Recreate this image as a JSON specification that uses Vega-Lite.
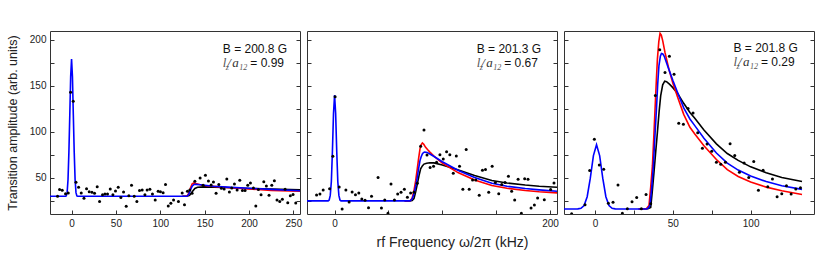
{
 "$schema": "https://vega.github.io/schema/vega-lite/v6.json",
 "background": "white",
 "padding": {"left": 5, "top": 30, "right": 17, "bottom": 8},
 "bounds": "flush",
 "spacing": 7,
 "config": {
  "font": "Liberation Sans",
  "view": {"stroke": "#333333", "strokeWidth": 1},
  "axis": {"domain": false, "grid": false, "tickSize": -4, "tickColor": "#333333", "labelFontSize": 10, "labelColor": "#222222", "labelPadding": 8, "labelFlush": false, "titleFontWeight": "normal", "titleColor": "#222222", "labelFont": "Liberation Sans", "titleFont": "Liberation Sans"}
 },
 "datasets": {
  "points": [
   {"panel":1,"f":-15.8,"a":30},{"panel":1,"f":-13.5,"a":37.3},{"panel":1,"f":-10.5,"a":36.5},{"panel":1,"f":-6.8,"a":32.9},{"panel":1,"f":-3.7,"a":33.7},{"panel":1,"f":-1.1,"a":143},{"panel":1,"f":1.9,"a":133.3},{"panel":1,"f":5,"a":45.2},{"panel":1,"f":7.9,"a":39.8},{"panel":1,"f":10.9,"a":33.7},{"panel":1,"f":14,"a":27.8},{"panel":1,"f":16.9,"a":38.3},{"panel":1,"f":19.9,"a":35},{"panel":1,"f":23,"a":34.3},{"panel":1,"f":25.9,"a":33.2},{"panel":1,"f":28.9,"a":40.5},{"panel":1,"f":31.6,"a":24.5},{"panel":1,"f":34.9,"a":31.8},{"panel":1,"f":37.6,"a":32.6},{"panel":1,"f":40.5,"a":32.6},{"panel":1,"f":43.6,"a":38},{"panel":1,"f":46.6,"a":31.8},{"panel":1,"f":49.5,"a":35.8},{"panel":1,"f":52.6,"a":39.8},{"panel":1,"f":55.6,"a":28.6},{"panel":1,"f":58.6,"a":34.8},{"panel":1,"f":61.6,"a":19.1},{"panel":1,"f":64.6,"a":30.7},{"panel":1,"f":67.6,"a":41.9},{"panel":1,"f":70.6,"a":30},{"panel":1,"f":73.6,"a":24.5},{"panel":1,"f":76.6,"a":36.2},{"panel":1,"f":79.6,"a":36.9},{"panel":1,"f":82.7,"a":31.8},{"panel":1,"f":85.2,"a":36.9},{"panel":1,"f":88.3,"a":37.6},{"panel":1,"f":91.2,"a":32.6},{"panel":1,"f":94.3,"a":26},{"panel":1,"f":97.6,"a":35.4},{"panel":1,"f":100.2,"a":35},{"panel":1,"f":103.2,"a":34},{"panel":1,"f":105.9,"a":42.7},{"panel":1,"f":109,"a":19.5},{"panel":1,"f":111.9,"a":22.4},{"panel":1,"f":115,"a":26},{"panel":1,"f":120.5,"a":24.5},{"panel":1,"f":124.7,"a":33.7},{"panel":1,"f":127.3,"a":20.9},{"panel":1,"f":130.6,"a":35.4},{"panel":1,"f":133.3,"a":36.9},{"panel":1,"f":135.9,"a":33.2},{"panel":1,"f":139,"a":46.3},{"panel":1,"f":144.9,"a":50},{"panel":1,"f":148.3,"a":41.9},{"panel":1,"f":150.9,"a":52.8},{"panel":1,"f":154.3,"a":46.7},{"panel":1,"f":157.3,"a":42.3},{"panel":1,"f":159.9,"a":45.6},{"panel":1,"f":162.9,"a":33.2},{"panel":1,"f":166,"a":42.7},{"panel":1,"f":168.9,"a":38.7},{"panel":1,"f":172,"a":38},{"panel":1,"f":175,"a":48.9},{"panel":1,"f":177.9,"a":34.8},{"panel":1,"f":180.6,"a":39.1},{"panel":1,"f":183.6,"a":43.5},{"panel":1,"f":186.6,"a":36.9},{"panel":1,"f":189.6,"a":47.4},{"panel":1,"f":192.6,"a":36.2},{"panel":1,"f":195.6,"a":36.2},{"panel":1,"f":198.6,"a":41.9},{"panel":1,"f":201.6,"a":44.5},{"panel":1,"f":205,"a":39.1},{"panel":1,"f":207.7,"a":19.5},{"panel":1,"f":210.6,"a":37.3},{"panel":1,"f":213.6,"a":31.8},{"panel":1,"f":216.7,"a":45.9},{"panel":1,"f":219.6,"a":41.3},{"panel":1,"f":222.6,"a":31.1},{"panel":1,"f":225.7,"a":41.9},{"panel":1,"f":228.6,"a":47},{"panel":1,"f":231.6,"a":26},{"panel":1,"f":234.7,"a":24.5},{"panel":1,"f":237.6,"a":26.7},{"panel":1,"f":240.7,"a":37.6},{"panel":1,"f":243.7,"a":23.1},{"panel":1,"f":246.6,"a":30.7},{"panel":1,"f":249.7,"a":32.1},{"panel":1,"f":252.7,"a":22.8},
   {"panel":2,"f":-16.7,"a":31.5},{"panel":2,"f":-13.6,"a":32.6},{"panel":2,"f":-10.6,"a":36.9},{"panel":2,"f":-4.6,"a":38.3},{"panel":2,"f":-1.6,"a":73.5},{"panel":2,"f":0.5,"a":138},{"panel":2,"f":4.3,"a":40.2},{"panel":2,"f":7,"a":16.3},{"panel":2,"f":10.5,"a":36.9},{"panel":2,"f":13.5,"a":23.9},{"panel":2,"f":16.3,"a":34.8},{"panel":2,"f":19.4,"a":31.8},{"panel":2,"f":22.5,"a":33.7},{"panel":2,"f":25.3,"a":27.1},{"panel":2,"f":28.3,"a":25.6},{"panel":2,"f":31.5,"a":17.7},{"panel":2,"f":34.3,"a":30},{"panel":2,"f":40.4,"a":50.3},{"panel":2,"f":43.5,"a":17.4},{"panel":2,"f":46.6,"a":26},{"panel":2,"f":49.6,"a":11.5},{"panel":2,"f":52.4,"a":43.4},{"panel":2,"f":55.6,"a":26},{"panel":2,"f":58.6,"a":32.6},{"panel":2,"f":61.7,"a":34.3},{"panel":2,"f":64.8,"a":37.6},{"panel":2,"f":67.6,"a":28.9},{"panel":2,"f":70.6,"a":33.7},{"panel":2,"f":73.7,"a":34.3},{"panel":2,"f":76.8,"a":44.1},{"panel":2,"f":79.9,"a":84.3},{"panel":2,"f":83,"a":102.1},{"panel":2,"f":85.8,"a":74.8},{"panel":2,"f":88.7,"a":61.3},{"panel":2,"f":91.9,"a":62.6},{"panel":2,"f":94.7,"a":66.9},{"panel":2,"f":97.8,"a":75},{"panel":2,"f":100.9,"a":70.6},{"panel":2,"f":104,"a":78.5},{"panel":2,"f":107,"a":75},{"panel":2,"f":110.2,"a":55},{"panel":2,"f":113,"a":73.9},{"panel":2,"f":116,"a":62.6},{"panel":2,"f":119.1,"a":37.6},{"panel":2,"f":122.2,"a":80.9},{"panel":2,"f":125,"a":37.6},{"panel":2,"f":128.1,"a":47.8},{"panel":2,"f":131.1,"a":47.8},{"panel":2,"f":134.3,"a":31.1},{"panel":2,"f":137.3,"a":58.3},{"panel":2,"f":140.1,"a":59},{"panel":2,"f":143.1,"a":34.3},{"panel":2,"f":146.3,"a":62.6},{"panel":2,"f":149.3,"a":44.9},{"panel":2,"f":152.4,"a":32.9},{"panel":2,"f":155.2,"a":42.7},{"panel":2,"f":158.3,"a":44.9},{"panel":2,"f":161.4,"a":51.7},{"panel":2,"f":164.4,"a":35.4},{"panel":2,"f":167.2,"a":26},{"panel":2,"f":170.4,"a":48.4},{"panel":2,"f":173.4,"a":11.5},{"panel":2,"f":176.5,"a":49.2},{"panel":2,"f":179.6,"a":48.4},{"panel":2,"f":182.4,"a":17.4},{"panel":2,"f":185.5,"a":20.6},{"panel":2,"f":188.5,"a":28.2},{"panel":2,"f":194.7,"a":26.4},{"panel":2,"f":200.6,"a":37.3},{"panel":2,"f":203.7,"a":44.5},
   {"panel":3,"f":-15,"a":11},{"panel":3,"f":-6.4,"a":20.9},{"panel":3,"f":-3.4,"a":57.9},{"panel":3,"f":-0.4,"a":91.9},{"panel":3,"f":2.8,"a":64.1},{"panel":3,"f":5.6,"a":59.3},{"panel":3,"f":8.6,"a":22.4},{"panel":3,"f":11.6,"a":23.5},{"panel":3,"f":14.8,"a":42.4},{"panel":3,"f":17.6,"a":11.5},{"panel":3,"f":20.8,"a":16.6},{"panel":3,"f":23.8,"a":24.2},{"panel":3,"f":26.8,"a":28.6},{"panel":3,"f":29.8,"a":16.6},{"panel":3,"f":32.8,"a":32.1},{"panel":3,"f":35.8,"a":22},{"panel":3,"f":38.8,"a":139.4},{"panel":3,"f":41.6,"a":189.1},{"panel":3,"f":45,"a":164.4},{"panel":3,"f":47.8,"a":182.2},{"panel":3,"f":50.8,"a":162.6},{"panel":3,"f":53.8,"a":109.3},{"panel":3,"f":56.8,"a":108.2},{"panel":3,"f":59.8,"a":125.3},{"panel":3,"f":63,"a":120.6},{"panel":3,"f":66,"a":98.9},{"panel":3,"f":69,"a":82.2},{"panel":3,"f":72,"a":86.9},{"panel":3,"f":75,"a":78.9},{"panel":3,"f":78,"a":66.9},{"panel":3,"f":80.8,"a":64.8},{"panel":3,"f":83.8,"a":66.9},{"panel":3,"f":86.8,"a":87.2},{"panel":3,"f":89.8,"a":74.2},{"panel":3,"f":92.8,"a":56.1},{"panel":3,"f":95.8,"a":66.3},{"panel":3,"f":98.8,"a":50.3},{"panel":3,"f":102,"a":67.7},{"panel":3,"f":105,"a":36.5},{"panel":3,"f":108,"a":58.2},{"panel":3,"f":111,"a":40.5},{"panel":3,"f":114,"a":48.9},{"panel":3,"f":117,"a":29.6},{"panel":3,"f":120,"a":32.9},{"panel":3,"f":123,"a":41.6},{"panel":3,"f":126,"a":32.6},{"panel":3,"f":129,"a":38},{"panel":3,"f":132,"a":39.3}
  ],
  "curves": [
   {"panel":1,"fit":"black","f":125,"a":30},{"panel":1,"fit":"black","f":130,"a":30},{"panel":1,"fit":"black","f":133,"a":31},{"panel":1,"fit":"black","f":136,"a":35},{"panel":1,"fit":"black","f":139,"a":38.5},{"panel":1,"fit":"black","f":142,"a":39.8},{"panel":1,"fit":"black","f":150,"a":40.2},{"panel":1,"fit":"black","f":160,"a":40},{"panel":1,"fit":"black","f":175,"a":39.5},{"panel":1,"fit":"black","f":200,"a":38.5},{"panel":1,"fit":"black","f":225,"a":37.8},{"panel":1,"fit":"black","f":257.5,"a":37},
   {"panel":1,"fit":"red","f":125,"a":30},{"panel":1,"fit":"red","f":130,"a":30},{"panel":1,"fit":"red","f":132,"a":33},{"panel":1,"fit":"red","f":134,"a":39},{"panel":1,"fit":"red","f":136,"a":43.5},{"panel":1,"fit":"red","f":138,"a":44.5},{"panel":1,"fit":"red","f":140,"a":44},{"panel":1,"fit":"red","f":145,"a":42.5},{"panel":1,"fit":"red","f":150,"a":41.8},{"panel":1,"fit":"red","f":160,"a":40.8},{"panel":1,"fit":"red","f":175,"a":39.5},{"panel":1,"fit":"red","f":200,"a":38},{"panel":1,"fit":"red","f":225,"a":36.5},{"panel":1,"fit":"red","f":257.5,"a":35.5},
   {"panel":1,"fit":"blue","f":-24.3,"a":30},{"panel":1,"fit":"blue","f":-7,"a":30},{"panel":1,"fit":"blue","f":-6,"a":30.5},{"panel":1,"fit":"blue","f":-5,"a":34},{"panel":1,"fit":"blue","f":-4,"a":48},{"panel":1,"fit":"blue","f":-3,"a":78},{"panel":1,"fit":"blue","f":-2,"a":118},{"panel":1,"fit":"blue","f":-1,"a":160},{"panel":1,"fit":"blue","f":0,"a":179},{"panel":1,"fit":"blue","f":1,"a":160},{"panel":1,"fit":"blue","f":2,"a":118},{"panel":1,"fit":"blue","f":3,"a":78},{"panel":1,"fit":"blue","f":4,"a":48},{"panel":1,"fit":"blue","f":5,"a":34},{"panel":1,"fit":"blue","f":6,"a":30.5},{"panel":1,"fit":"blue","f":7,"a":30},{"panel":1,"fit":"blue","f":130,"a":30},{"panel":1,"fit":"blue","f":132,"a":32},{"panel":1,"fit":"blue","f":134,"a":37},{"panel":1,"fit":"blue","f":136,"a":41},{"panel":1,"fit":"blue","f":138,"a":42.8},{"panel":1,"fit":"blue","f":140,"a":43},{"panel":1,"fit":"blue","f":145,"a":42.5},{"panel":1,"fit":"blue","f":150,"a":42},{"panel":1,"fit":"blue","f":160,"a":41},{"panel":1,"fit":"blue","f":175,"a":40},{"panel":1,"fit":"blue","f":200,"a":38.7},{"panel":1,"fit":"blue","f":225,"a":37.5},{"panel":1,"fit":"blue","f":257.5,"a":36},
   {"panel":2,"fit":"black","f":65,"a":25},{"panel":2,"fit":"black","f":70,"a":25},{"panel":2,"fit":"black","f":72,"a":25.5},{"panel":2,"fit":"black","f":73.7,"a":27.5},{"panel":2,"fit":"black","f":75.3,"a":35},{"panel":2,"fit":"black","f":76.8,"a":43.4},{"panel":2,"fit":"black","f":78.3,"a":52},{"panel":2,"fit":"black","f":79.9,"a":59.8},{"panel":2,"fit":"black","f":81.5,"a":63},{"panel":2,"fit":"black","f":83,"a":65},{"panel":2,"fit":"black","f":85.5,"a":66},{"panel":2,"fit":"black","f":88.5,"a":66.5},{"panel":2,"fit":"black","f":92.3,"a":66.3},{"panel":2,"fit":"black","f":100,"a":64},{"panel":2,"fit":"black","f":115,"a":58.5},{"panel":2,"fit":"black","f":130,"a":52.5},{"panel":2,"fit":"black","f":146,"a":47.2},{"panel":2,"fit":"black","f":160,"a":44.5},{"panel":2,"fit":"black","f":177,"a":42.3},{"panel":2,"fit":"black","f":190,"a":41},{"panel":2,"fit":"black","f":206.5,"a":39.8},
   {"panel":2,"fit":"red","f":65,"a":25},{"panel":2,"fit":"red","f":70,"a":25},{"panel":2,"fit":"red","f":72,"a":28},{"panel":2,"fit":"red","f":73.7,"a":36},{"panel":2,"fit":"red","f":75.3,"a":47},{"panel":2,"fit":"red","f":76.8,"a":60},{"panel":2,"fit":"red","f":78,"a":71},{"panel":2,"fit":"red","f":79.3,"a":81.5},{"panel":2,"fit":"red","f":80.4,"a":86},{"panel":2,"fit":"red","f":81.5,"a":88},{"panel":2,"fit":"red","f":82.8,"a":86.5},{"panel":2,"fit":"red","f":84.5,"a":83.2},{"panel":2,"fit":"red","f":86.5,"a":80.5},{"panel":2,"fit":"red","f":88.5,"a":78},{"panel":2,"fit":"red","f":92,"a":74},{"panel":2,"fit":"red","f":100,"a":66},{"panel":2,"fit":"red","f":115,"a":55.5},{"panel":2,"fit":"red","f":130,"a":47.8},{"panel":2,"fit":"red","f":146,"a":41.8},{"panel":2,"fit":"red","f":160,"a":38.8},{"panel":2,"fit":"red","f":177,"a":36.4},{"panel":2,"fit":"red","f":190,"a":35},{"panel":2,"fit":"red","f":206.5,"a":33.7},
   {"panel":2,"fit":"blue","f":-25.6,"a":25},{"panel":2,"fit":"blue","f":-6,"a":25},{"panel":2,"fit":"blue","f":-5,"a":26},{"panel":2,"fit":"blue","f":-4,"a":31},{"panel":2,"fit":"blue","f":-3,"a":46},{"panel":2,"fit":"blue","f":-2,"a":79},{"panel":2,"fit":"blue","f":-1,"a":120},{"panel":2,"fit":"blue","f":0,"a":140},{"panel":2,"fit":"blue","f":1,"a":120},{"panel":2,"fit":"blue","f":2,"a":79},{"panel":2,"fit":"blue","f":3,"a":46},{"panel":2,"fit":"blue","f":4,"a":31},{"panel":2,"fit":"blue","f":5,"a":26},{"panel":2,"fit":"blue","f":6,"a":25},{"panel":2,"fit":"blue","f":70,"a":25},{"panel":2,"fit":"blue","f":72,"a":27},{"panel":2,"fit":"blue","f":73.7,"a":32.6},{"panel":2,"fit":"blue","f":75.3,"a":41},{"panel":2,"fit":"blue","f":76.8,"a":50.6},{"panel":2,"fit":"blue","f":78,"a":60},{"panel":2,"fit":"blue","f":79.3,"a":68.8},{"panel":2,"fit":"blue","f":80.4,"a":73},{"panel":2,"fit":"blue","f":81.5,"a":76},{"panel":2,"fit":"blue","f":82.5,"a":77.5},{"panel":2,"fit":"blue","f":83.6,"a":78},{"panel":2,"fit":"blue","f":86,"a":77.5},{"panel":2,"fit":"blue","f":88.5,"a":76},{"panel":2,"fit":"blue","f":92,"a":73.5},{"panel":2,"fit":"blue","f":100,"a":67.5},{"panel":2,"fit":"blue","f":115,"a":58},{"panel":2,"fit":"blue","f":130,"a":50.5},{"panel":2,"fit":"blue","f":146,"a":44.2},{"panel":2,"fit":"blue","f":160,"a":41},{"panel":2,"fit":"blue","f":177,"a":38.5},{"panel":2,"fit":"blue","f":190,"a":37},{"panel":2,"fit":"blue","f":206.5,"a":35.5},
   {"panel":3,"fit":"black","f":28,"a":16.3},{"panel":3,"fit":"black","f":34,"a":16.5},{"panel":3,"fit":"black","f":35.8,"a":18},{"panel":3,"fit":"black","f":36.8,"a":35},{"panel":3,"fit":"black","f":37.9,"a":56},{"panel":3,"fit":"black","f":39,"a":78},{"panel":3,"fit":"black","f":40.1,"a":99.5},{"panel":3,"fit":"black","f":41.2,"a":122},{"panel":3,"fit":"black","f":42.2,"a":139},{"panel":3,"fit":"black","f":43.5,"a":151},{"panel":3,"fit":"black","f":44.8,"a":155},{"panel":3,"fit":"black","f":46,"a":154.5},{"panel":3,"fit":"black","f":48,"a":151.5},{"panel":3,"fit":"black","f":50,"a":148},{"panel":3,"fit":"black","f":53,"a":142},{"panel":3,"fit":"black","f":57,"a":131},{"panel":3,"fit":"black","f":61,"a":121},{"panel":3,"fit":"black","f":64,"a":115},{"panel":3,"fit":"black","f":70,"a":102},{"panel":3,"fit":"black","f":78,"a":87},{"panel":3,"fit":"black","f":85,"a":76.5},{"panel":3,"fit":"black","f":92,"a":69},{"panel":3,"fit":"black","f":100,"a":62},{"panel":3,"fit":"black","f":110,"a":55.5},{"panel":3,"fit":"black","f":120,"a":50.5},{"panel":3,"fit":"black","f":133,"a":46},
   {"panel":3,"fit":"red","f":28,"a":16.3},{"panel":3,"fit":"red","f":33,"a":16.5},{"panel":3,"fit":"red","f":34.7,"a":20},{"panel":3,"fit":"red","f":35.8,"a":40},{"panel":3,"fit":"red","f":36.9,"a":63},{"panel":3,"fit":"red","f":37.8,"a":95},{"panel":3,"fit":"red","f":38.6,"a":125},{"panel":3,"fit":"red","f":39.4,"a":155},{"panel":3,"fit":"red","f":40.1,"a":179},{"panel":3,"fit":"red","f":41,"a":198},{"panel":3,"fit":"red","f":41.8,"a":207},{"panel":3,"fit":"red","f":42.6,"a":205},{"panel":3,"fit":"red","f":43.5,"a":199},{"panel":3,"fit":"red","f":45,"a":186},{"panel":3,"fit":"red","f":47.5,"a":168},{"panel":3,"fit":"red","f":50,"a":153},{"panel":3,"fit":"red","f":53,"a":138},{"panel":3,"fit":"red","f":57,"a":119},{"panel":3,"fit":"red","f":61,"a":105},{"panel":3,"fit":"red","f":64,"a":98},{"panel":3,"fit":"red","f":70,"a":85},{"panel":3,"fit":"red","f":78,"a":70},{"panel":3,"fit":"red","f":85,"a":59},{"panel":3,"fit":"red","f":92,"a":51.5},{"panel":3,"fit":"red","f":100,"a":45.5},{"panel":3,"fit":"red","f":110,"a":40},{"panel":3,"fit":"red","f":120,"a":36},{"panel":3,"fit":"red","f":133,"a":32},
   {"panel":3,"fit":"blue","f":-19.9,"a":16.3},{"panel":3,"fit":"blue","f":-11,"a":16.4},{"panel":3,"fit":"blue","f":-9,"a":17},{"panel":3,"fit":"blue","f":-7,"a":20},{"panel":3,"fit":"blue","f":-5,"a":29.6},{"panel":3,"fit":"blue","f":-3,"a":49.7},{"panel":3,"fit":"blue","f":-1,"a":74.2},{"panel":3,"fit":"blue","f":1,"a":86},{"panel":3,"fit":"blue","f":3,"a":74.2},{"panel":3,"fit":"blue","f":5,"a":49.7},{"panel":3,"fit":"blue","f":7,"a":29.6},{"panel":3,"fit":"blue","f":9,"a":20},{"panel":3,"fit":"blue","f":11,"a":17},{"panel":3,"fit":"blue","f":13,"a":16.4},{"panel":3,"fit":"blue","f":33,"a":16.3},{"panel":3,"fit":"blue","f":34,"a":17},{"panel":3,"fit":"blue","f":35.3,"a":20},{"panel":3,"fit":"blue","f":36.4,"a":38},{"panel":3,"fit":"blue","f":37.5,"a":63},{"panel":3,"fit":"blue","f":38.5,"a":95},{"panel":3,"fit":"blue","f":39.5,"a":125},{"panel":3,"fit":"blue","f":40.3,"a":152},{"panel":3,"fit":"blue","f":41.1,"a":172},{"panel":3,"fit":"blue","f":42,"a":182},{"panel":3,"fit":"blue","f":42.7,"a":185},{"panel":3,"fit":"blue","f":43.6,"a":184.5},{"panel":3,"fit":"blue","f":44.5,"a":182},{"panel":3,"fit":"blue","f":47,"a":170},{"panel":3,"fit":"blue","f":50,"a":156},{"panel":3,"fit":"blue","f":53,"a":143},{"panel":3,"fit":"blue","f":57,"a":126},{"panel":3,"fit":"blue","f":61,"a":114},{"panel":3,"fit":"blue","f":64,"a":107},{"panel":3,"fit":"blue","f":70,"a":93},{"panel":3,"fit":"blue","f":78,"a":77},{"panel":3,"fit":"blue","f":85,"a":66},{"panel":3,"fit":"blue","f":92,"a":58.5},{"panel":3,"fit":"blue","f":100,"a":52},{"panel":3,"fit":"blue","f":110,"a":46},{"panel":3,"fit":"blue","f":120,"a":41.5},{"panel":3,"fit":"blue","f":133,"a":37.5}
  ],
  "notes": [
   {"panel":1,"kind":"B","f":170.5,"a":185.1,"t":"B = 200.8 G"},{"panel":1,"kind":"l","f":170.5,"a":169.9,"t":"l"},{"panel":1,"kind":"z","f":170.5,"a":169.9,"t":"z"},{"panel":1,"kind":"s","f":170.5,"a":169.9,"t":"/"},{"panel":1,"kind":"a","f":170.5,"a":169.9,"t":"a"},{"panel":1,"kind":"n","f":170.5,"a":169.9,"t":"12"},{"panel":1,"kind":"v","f":170.5,"a":169.9,"t":"= 0.99"},
   {"panel":2,"kind":"B","f":132,"a":185.1,"t":"B = 201.3 G"},{"panel":2,"kind":"l","f":132,"a":169.9,"t":"l"},{"panel":2,"kind":"z","f":132,"a":169.9,"t":"z"},{"panel":2,"kind":"s","f":132,"a":169.9,"t":"/"},{"panel":2,"kind":"a","f":132,"a":169.9,"t":"a"},{"panel":2,"kind":"n","f":132,"a":169.9,"t":"12"},{"panel":2,"kind":"v","f":132,"a":169.9,"t":"= 0.67"},
   {"panel":3,"kind":"B","f":89,"a":187,"t":"B = 201.8 G"},{"panel":3,"kind":"l","f":89,"a":171.5,"t":"l"},{"panel":3,"kind":"z","f":89,"a":171.5,"t":"z"},{"panel":3,"kind":"s","f":89,"a":171.5,"t":"/"},{"panel":3,"kind":"a","f":89,"a":171.5,"t":"a"},{"panel":3,"kind":"n","f":89,"a":171.5,"t":"12"},{"panel":3,"kind":"v","f":89,"a":171.5,"t":"= 0.29"}
  ]
 },
 "hconcat": [
  {
   "width": 250, "height": 183,
   "resolve": {"scale": {"y": "independent"}},
   "layer": [
    {"data": {"name": "curves"}, "transform": [{"filter": "datum.panel==1"}],
     "mark": {"type": "line", "strokeWidth": 1.6, "clip": true},
     "encoding": {
      "x": {"field": "f", "type": "quantitative", "scale": {"domain": [-24.3, 257.5], "nice": false, "zero": false}, "axis": {"values": [0,25,50,75,100,125,150,175,200,225,250], "labelExpr": "datum.value % 50 === 0 ? datum.label : ''", "title": null}},
      "y": {"field": "a", "type": "quantitative", "scale": {"domain": [10.8, 209.5], "nice": false, "zero": false}, "axis": {"orient": "left", "values": [25,50,75,100,125,150,175,200], "labelExpr": "datum.value % 50 === 0 ? datum.label : ''", "title": "Transition amplitude (arb. units)", "titleFontSize": 12.5, "titleX": -34, "titleY": 91.5, "titleAngle": 270, "titleBaseline": "alphabetic", "titleAlign": "center"}},
      "color": {"field": "fit", "type": "nominal", "scale": {"domain": ["black", "red", "blue"], "range": ["#000000", "#ff0000", "#0000ff"]}, "legend": null}
     }},
    {"data": {"name": "points"}, "transform": [{"filter": "datum.panel==1"}],
     "mark": {"type": "circle", "size": 9, "color": "#000000", "opacity": 1, "clip": true},
     "encoding": {
      "x": {"field": "f", "type": "quantitative", "scale": {"domain": [-24.3, 257.5], "nice": false, "zero": false}},
      "y": {"field": "a", "type": "quantitative", "scale": {"domain": [10.8, 209.5], "nice": false, "zero": false}, "axis": {"orient": "right", "values": [25,50,75,100,125,150,175,200], "labels": false, "title": null}}
     }},
    {"data": {"name": "notes"}, "transform": [{"filter": "datum.panel==1 && datum.kind=='B'"}], "mark": {"type": "text", "align": "left", "baseline": "alphabetic", "font": "Liberation Sans", "fontSize": 12, "fill": "#111111"},
     "encoding": {"x": {"field": "f", "type": "quantitative", "scale": {"domain": [-24.3, 257.5], "nice": false, "zero": false}}, "y": {"field": "a", "type": "quantitative", "scale": {"domain": [10.8, 209.5], "nice": false, "zero": false}, "axis": null}, "text": {"field": "t"}}},
    {"data": {"name": "notes"}, "transform": [{"filter": "datum.panel==1 && datum.kind=='l'"}], "mark": {"type": "text", "align": "left", "baseline": "alphabetic", "font": "Liberation Serif", "fontStyle": "italic", "fontSize": 13, "fill": "#555555", "dx": 0},
     "encoding": {"x": {"field": "f", "type": "quantitative", "scale": {"domain": [-24.3, 257.5], "nice": false, "zero": false}}, "y": {"field": "a", "type": "quantitative", "scale": {"domain": [10.8, 209.5], "nice": false, "zero": false}, "axis": null}, "text": {"field": "t"}}},
    {"data": {"name": "notes"}, "transform": [{"filter": "datum.panel==1 && datum.kind=='z'"}], "mark": {"type": "text", "align": "left", "baseline": "alphabetic", "font": "Liberation Serif", "fontStyle": "italic", "fontSize": 8, "fill": "#555555", "dx": 3, "dy": 3},
     "encoding": {"x": {"field": "f", "type": "quantitative", "scale": {"domain": [-24.3, 257.5], "nice": false, "zero": false}}, "y": {"field": "a", "type": "quantitative", "scale": {"domain": [10.8, 209.5], "nice": false, "zero": false}, "axis": null}, "text": {"field": "t"}}},
    {"data": {"name": "notes"}, "transform": [{"filter": "datum.panel==1 && datum.kind=='s'"}], "mark": {"type": "text", "align": "left", "baseline": "alphabetic", "font": "Liberation Serif", "fontStyle": "italic", "fontSize": 13, "fill": "#333333", "dx": 4.5},
     "encoding": {"x": {"field": "f", "type": "quantitative", "scale": {"domain": [-24.3, 257.5], "nice": false, "zero": false}}, "y": {"field": "a", "type": "quantitative", "scale": {"domain": [10.8, 209.5], "nice": false, "zero": false}, "axis": null}, "text": {"field": "t"}}},
    {"data": {"name": "notes"}, "transform": [{"filter": "datum.panel==1 && datum.kind=='a'"}], "mark": {"type": "text", "align": "left", "baseline": "alphabetic", "font": "Liberation Serif", "fontStyle": "italic", "fontSize": 13, "fill": "#333333", "dx": 9.5},
     "encoding": {"x": {"field": "f", "type": "quantitative", "scale": {"domain": [-24.3, 257.5], "nice": false, "zero": false}}, "y": {"field": "a", "type": "quantitative", "scale": {"domain": [10.8, 209.5], "nice": false, "zero": false}, "axis": null}, "text": {"field": "t"}}},
    {"data": {"name": "notes"}, "transform": [{"filter": "datum.panel==1 && datum.kind=='n'"}], "mark": {"type": "text", "align": "left", "baseline": "alphabetic", "font": "Liberation Serif", "fontStyle": "italic", "fontSize": 8, "fill": "#555555", "dx": 16.5, "dy": 3},
     "encoding": {"x": {"field": "f", "type": "quantitative", "scale": {"domain": [-24.3, 257.5], "nice": false, "zero": false}}, "y": {"field": "a", "type": "quantitative", "scale": {"domain": [10.8, 209.5], "nice": false, "zero": false}, "axis": null}, "text": {"field": "t"}}},
    {"data": {"name": "notes"}, "transform": [{"filter": "datum.panel==1 && datum.kind=='v'"}], "mark": {"type": "text", "align": "left", "baseline": "alphabetic", "font": "Liberation Sans", "fontSize": 12, "fill": "#111111", "dx": 27.5},
     "encoding": {"x": {"field": "f", "type": "quantitative", "scale": {"domain": [-24.3, 257.5], "nice": false, "zero": false}}, "y": {"field": "a", "type": "quantitative", "scale": {"domain": [10.8, 209.5], "nice": false, "zero": false}, "axis": null}, "text": {"field": "t"}}}
   ]
  },
  {
   "width": 250, "height": 183,
   "resolve": {"scale": {"y": "independent"}},
   "layer": [
    {"data": {"name": "curves"}, "transform": [{"filter": "datum.panel==2"}],
     "mark": {"type": "line", "strokeWidth": 1.6, "clip": true},
     "encoding": {
      "x": {"field": "f", "type": "quantitative", "scale": {"domain": [-25.6, 206.5], "nice": false, "zero": false}, "axis": {"values": [0,25,50,75,100,125,150,175,200], "labelExpr": "datum.value % 200 === 0 ? datum.label : ''", "title": "rf Frequency ω/2π (kHz)", "titleFontSize": 14, "titleX": 145, "titleY": 32, "titleAlign": "center", "titleBaseline": "alphabetic"}},
      "y": {"field": "a", "type": "quantitative", "scale": {"domain": [10.8, 209.5], "nice": false, "zero": false}, "axis": {"orient": "left", "values": [25,50,75,100,125,150,175,200], "labels": false, "title": null}},
      "color": {"field": "fit", "type": "nominal", "scale": {"domain": ["black", "red", "blue"], "range": ["#000000", "#ff0000", "#0000ff"]}, "legend": null}
     }},
    {"data": {"name": "points"}, "transform": [{"filter": "datum.panel==2"}],
     "mark": {"type": "circle", "size": 9, "color": "#000000", "opacity": 1, "clip": true},
     "encoding": {
      "x": {"field": "f", "type": "quantitative", "scale": {"domain": [-25.6, 206.5], "nice": false, "zero": false}},
      "y": {"field": "a", "type": "quantitative", "scale": {"domain": [10.8, 209.5], "nice": false, "zero": false}, "axis": {"orient": "right", "values": [25,50,75,100,125,150,175,200], "labels": false, "title": null}}
     }},
    {"data": {"name": "notes"}, "transform": [{"filter": "datum.panel==2 && datum.kind=='B'"}], "mark": {"type": "text", "align": "left", "baseline": "alphabetic", "font": "Liberation Sans", "fontSize": 12, "fill": "#111111"},
     "encoding": {"x": {"field": "f", "type": "quantitative", "scale": {"domain": [-25.6, 206.5], "nice": false, "zero": false}}, "y": {"field": "a", "type": "quantitative", "scale": {"domain": [10.8, 209.5], "nice": false, "zero": false}, "axis": null}, "text": {"field": "t"}}},
    {"data": {"name": "notes"}, "transform": [{"filter": "datum.panel==2 && datum.kind=='l'"}], "mark": {"type": "text", "align": "left", "baseline": "alphabetic", "font": "Liberation Serif", "fontStyle": "italic", "fontSize": 13, "fill": "#555555", "dx": 0},
     "encoding": {"x": {"field": "f", "type": "quantitative", "scale": {"domain": [-25.6, 206.5], "nice": false, "zero": false}}, "y": {"field": "a", "type": "quantitative", "scale": {"domain": [10.8, 209.5], "nice": false, "zero": false}, "axis": null}, "text": {"field": "t"}}},
    {"data": {"name": "notes"}, "transform": [{"filter": "datum.panel==2 && datum.kind=='z'"}], "mark": {"type": "text", "align": "left", "baseline": "alphabetic", "font": "Liberation Serif", "fontStyle": "italic", "fontSize": 8, "fill": "#555555", "dx": 3, "dy": 3},
     "encoding": {"x": {"field": "f", "type": "quantitative", "scale": {"domain": [-25.6, 206.5], "nice": false, "zero": false}}, "y": {"field": "a", "type": "quantitative", "scale": {"domain": [10.8, 209.5], "nice": false, "zero": false}, "axis": null}, "text": {"field": "t"}}},
    {"data": {"name": "notes"}, "transform": [{"filter": "datum.panel==2 && datum.kind=='s'"}], "mark": {"type": "text", "align": "left", "baseline": "alphabetic", "font": "Liberation Serif", "fontStyle": "italic", "fontSize": 13, "fill": "#333333", "dx": 4.5},
     "encoding": {"x": {"field": "f", "type": "quantitative", "scale": {"domain": [-25.6, 206.5], "nice": false, "zero": false}}, "y": {"field": "a", "type": "quantitative", "scale": {"domain": [10.8, 209.5], "nice": false, "zero": false}, "axis": null}, "text": {"field": "t"}}},
    {"data": {"name": "notes"}, "transform": [{"filter": "datum.panel==2 && datum.kind=='a'"}], "mark": {"type": "text", "align": "left", "baseline": "alphabetic", "font": "Liberation Serif", "fontStyle": "italic", "fontSize": 13, "fill": "#333333", "dx": 9.5},
     "encoding": {"x": {"field": "f", "type": "quantitative", "scale": {"domain": [-25.6, 206.5], "nice": false, "zero": false}}, "y": {"field": "a", "type": "quantitative", "scale": {"domain": [10.8, 209.5], "nice": false, "zero": false}, "axis": null}, "text": {"field": "t"}}},
    {"data": {"name": "notes"}, "transform": [{"filter": "datum.panel==2 && datum.kind=='n'"}], "mark": {"type": "text", "align": "left", "baseline": "alphabetic", "font": "Liberation Serif", "fontStyle": "italic", "fontSize": 8, "fill": "#555555", "dx": 16.5, "dy": 3},
     "encoding": {"x": {"field": "f", "type": "quantitative", "scale": {"domain": [-25.6, 206.5], "nice": false, "zero": false}}, "y": {"field": "a", "type": "quantitative", "scale": {"domain": [10.8, 209.5], "nice": false, "zero": false}, "axis": null}, "text": {"field": "t"}}},
    {"data": {"name": "notes"}, "transform": [{"filter": "datum.panel==2 && datum.kind=='v'"}], "mark": {"type": "text", "align": "left", "baseline": "alphabetic", "font": "Liberation Sans", "fontSize": 12, "fill": "#111111", "dx": 27.5},
     "encoding": {"x": {"field": "f", "type": "quantitative", "scale": {"domain": [-25.6, 206.5], "nice": false, "zero": false}}, "y": {"field": "a", "type": "quantitative", "scale": {"domain": [10.8, 209.5], "nice": false, "zero": false}, "axis": null}, "text": {"field": "t"}}}
   ]
  },
  {
   "width": 250, "height": 183,
   "resolve": {"scale": {"y": "independent"}},
   "layer": [
    {"data": {"name": "curves"}, "transform": [{"filter": "datum.panel==3"}],
     "mark": {"type": "line", "strokeWidth": 1.6, "clip": true},
     "encoding": {
      "x": {"field": "f", "type": "quantitative", "scale": {"domain": [-19.9, 140.7], "nice": false, "zero": false}, "axis": {"values": [0,25,50,75,100,125], "labelExpr": "datum.value % 50 === 0 ? datum.label : ''", "title": null}},
      "y": {"field": "a", "type": "quantitative", "scale": {"domain": [10.8, 209.5], "nice": false, "zero": false}, "axis": {"orient": "left", "values": [25,50,75,100,125,150,175,200], "labels": false, "title": null}},
      "color": {"field": "fit", "type": "nominal", "scale": {"domain": ["black", "red", "blue"], "range": ["#000000", "#ff0000", "#0000ff"]}, "legend": null}
     }},
    {"data": {"name": "points"}, "transform": [{"filter": "datum.panel==3"}],
     "mark": {"type": "circle", "size": 9, "color": "#000000", "opacity": 1, "clip": true},
     "encoding": {
      "x": {"field": "f", "type": "quantitative", "scale": {"domain": [-19.9, 140.7], "nice": false, "zero": false}},
      "y": {"field": "a", "type": "quantitative", "scale": {"domain": [10.8, 209.5], "nice": false, "zero": false}, "axis": {"orient": "right", "values": [25,50,75,100,125,150,175,200], "labels": false, "title": null}}
     }},
    {"data": {"name": "notes"}, "transform": [{"filter": "datum.panel==3 && datum.kind=='B'"}], "mark": {"type": "text", "align": "left", "baseline": "alphabetic", "font": "Liberation Sans", "fontSize": 12, "fill": "#111111"},
     "encoding": {"x": {"field": "f", "type": "quantitative", "scale": {"domain": [-19.9, 140.7], "nice": false, "zero": false}}, "y": {"field": "a", "type": "quantitative", "scale": {"domain": [10.8, 209.5], "nice": false, "zero": false}, "axis": null}, "text": {"field": "t"}}},
    {"data": {"name": "notes"}, "transform": [{"filter": "datum.panel==3 && datum.kind=='l'"}], "mark": {"type": "text", "align": "left", "baseline": "alphabetic", "font": "Liberation Serif", "fontStyle": "italic", "fontSize": 13, "fill": "#555555", "dx": 0},
     "encoding": {"x": {"field": "f", "type": "quantitative", "scale": {"domain": [-19.9, 140.7], "nice": false, "zero": false}}, "y": {"field": "a", "type": "quantitative", "scale": {"domain": [10.8, 209.5], "nice": false, "zero": false}, "axis": null}, "text": {"field": "t"}}},
    {"data": {"name": "notes"}, "transform": [{"filter": "datum.panel==3 && datum.kind=='z'"}], "mark": {"type": "text", "align": "left", "baseline": "alphabetic", "font": "Liberation Serif", "fontStyle": "italic", "fontSize": 8, "fill": "#555555", "dx": 3, "dy": 3},
     "encoding": {"x": {"field": "f", "type": "quantitative", "scale": {"domain": [-19.9, 140.7], "nice": false, "zero": false}}, "y": {"field": "a", "type": "quantitative", "scale": {"domain": [10.8, 209.5], "nice": false, "zero": false}, "axis": null}, "text": {"field": "t"}}},
    {"data": {"name": "notes"}, "transform": [{"filter": "datum.panel==3 && datum.kind=='s'"}], "mark": {"type": "text", "align": "left", "baseline": "alphabetic", "font": "Liberation Serif", "fontStyle": "italic", "fontSize": 13, "fill": "#333333", "dx": 4.5},
     "encoding": {"x": {"field": "f", "type": "quantitative", "scale": {"domain": [-19.9, 140.7], "nice": false, "zero": false}}, "y": {"field": "a", "type": "quantitative", "scale": {"domain": [10.8, 209.5], "nice": false, "zero": false}, "axis": null}, "text": {"field": "t"}}},
    {"data": {"name": "notes"}, "transform": [{"filter": "datum.panel==3 && datum.kind=='a'"}], "mark": {"type": "text", "align": "left", "baseline": "alphabetic", "font": "Liberation Serif", "fontStyle": "italic", "fontSize": 13, "fill": "#333333", "dx": 9.5},
     "encoding": {"x": {"field": "f", "type": "quantitative", "scale": {"domain": [-19.9, 140.7], "nice": false, "zero": false}}, "y": {"field": "a", "type": "quantitative", "scale": {"domain": [10.8, 209.5], "nice": false, "zero": false}, "axis": null}, "text": {"field": "t"}}},
    {"data": {"name": "notes"}, "transform": [{"filter": "datum.panel==3 && datum.kind=='n'"}], "mark": {"type": "text", "align": "left", "baseline": "alphabetic", "font": "Liberation Serif", "fontStyle": "italic", "fontSize": 8, "fill": "#555555", "dx": 16.5, "dy": 3},
     "encoding": {"x": {"field": "f", "type": "quantitative", "scale": {"domain": [-19.9, 140.7], "nice": false, "zero": false}}, "y": {"field": "a", "type": "quantitative", "scale": {"domain": [10.8, 209.5], "nice": false, "zero": false}, "axis": null}, "text": {"field": "t"}}},
    {"data": {"name": "notes"}, "transform": [{"filter": "datum.panel==3 && datum.kind=='v'"}], "mark": {"type": "text", "align": "left", "baseline": "alphabetic", "font": "Liberation Sans", "fontSize": 12, "fill": "#111111", "dx": 27.5},
     "encoding": {"x": {"field": "f", "type": "quantitative", "scale": {"domain": [-19.9, 140.7], "nice": false, "zero": false}}, "y": {"field": "a", "type": "quantitative", "scale": {"domain": [10.8, 209.5], "nice": false, "zero": false}, "axis": null}, "text": {"field": "t"}}}
   ]
  }
 ]
}
